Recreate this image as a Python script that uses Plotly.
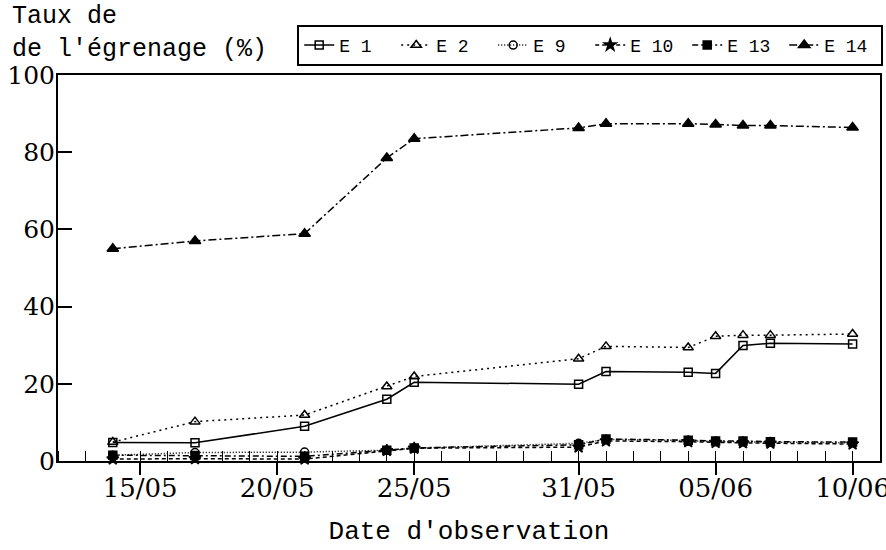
import plotly.graph_objects as go

dates = ["1990-05-14", "1990-05-17", "1990-05-21", "1990-05-24", "1990-05-25",
         "1990-05-31", "1990-06-01", "1990-06-04", "1990-06-05", "1990-06-06",
         "1990-06-07", "1990-06-10"]

e1 = [4.8, 4.7, 9.0, 16.0, 20.4, 19.9, 23.2, 23.0, 22.7, 29.9, 30.5, 30.3]
e2 = [4.9, 10.2, 11.9, 19.3, 21.9, 26.5, 29.7, 29.4, 32.3, 32.6, 32.6, 32.9]
e9 = [1.5, 2.2, 2.3, 2.8, 3.3, 4.6, 5.6, 5.3, 5.0, 5.0, 4.9, 4.7]
e10 = [0.5, 0.6, 0.5, 2.7, 3.3, 3.6, 5.2, 5.0, 4.8, 4.7, 4.6, 4.4]
e13 = [1.5, 1.4, 1.2, 2.8, 3.4, 4.2, 5.7, 5.4, 5.2, 5.2, 5.0, 4.9]
e14 = [55.0, 57.0, 58.9, 78.5, 83.5, 86.3, 87.4, 87.4, 87.2, 86.9, 86.9, 86.4]

x_tickvals = ["1990-05-15", "1990-05-20", "1990-05-25", "1990-05-31", "1990-06-05", "1990-06-10"]
x_ticktext = ["15/05", "20/05", "25/05", "31/05", "05/06", "10/06"]
y_tickvals = [0, 20, 40, 60, 80, 100]

FONT = "Liberation Mono"
TICKFONT = "DejaVu Serif"

series = [
    ("E 1", e1, "solid", "square-open", 8),
    ("E 2", e2, "2px,4px", "triangle-up-open", 9),
    ("E 9", e9, "1px,2px", "circle-open", 8),
    ("E 10", e10, "4px,3px", "star", 9),
    ("E 13", e13, "6px,3px,2px,3px", "square", 8),
    ("E 14", e14, "8px,3px,2px,3px", "triangle-up", 10),
]

fig = go.Figure()
for name, vals, dash, sym, size in series:
    fig.add_trace(go.Scatter(
        x=dates, y=vals, name=name, mode="lines+markers",
        line=dict(color="black", width=1.5, dash=dash),
        marker=dict(symbol=sym, size=size, color="black",
                    line=dict(color="black", width=1.5)),
        cliponaxis=False,
    ))

fig.update_layout(
    width=886, height=550,
    margin=dict(l=58, r=6, t=75, b=89, autoexpand=False),
    paper_bgcolor="white", plot_bgcolor="white",
    font=dict(family=FONT, color="black", size=22),
    showlegend=True,
    legend=dict(
        orientation="h", x=0.291, y=1.13, xanchor="left", yanchor="top",
        bordercolor="black", borderwidth=2, bgcolor="white",
        font=dict(family=FONT, size=18, color="black"),
        itemwidth=30, entrywidth=52, entrywidthmode="pixels",
    ),
    xaxis=dict(
        type="date", range=["1990-05-12", "1990-06-11"],
        tickvals=x_tickvals, ticktext=x_ticktext,
        ticks="outside", ticklen=12, tickwidth=1.5, tickcolor="black",
        minor=dict(dtick=86400000, ticks="inside", ticklen=10, tickwidth=1.2, tickcolor="black"),
        showline=True, linecolor="black", linewidth=2, mirror=True,
        showgrid=False, zeroline=False, ticklabeloverflow="allow",
        ticklabelstandoff=-9,
        tickfont=dict(family=TICKFONT, size=26, color="black"),
        title=dict(text="Date d'observation", font=dict(family=FONT, size=26, color="black"), standoff=19),
    ),
    yaxis=dict(
        range=[0, 100], tickvals=y_tickvals,
        ticks="inside", ticklen=14, tickwidth=1.5, tickcolor="black",
        showline=True, linecolor="black", linewidth=2, mirror=True,
        showgrid=False, zeroline=False, ticklabelstandoff=-4,
        tickfont=dict(family=TICKFONT, size=25, color="black"),
    ),
    annotations=[dict(
        text="Taux de<br>de l'égrenage (%)", xref="paper", yref="paper",
        x=-0.058, y=1.194, xanchor="left", yanchor="top", align="left",
        showarrow=False, font=dict(family=FONT, size=25, color="black"),
    )],
)

fig.write_html("out.html", config={"displayModeBar": False},
               post_script="document.body.style.margin='0px';")
